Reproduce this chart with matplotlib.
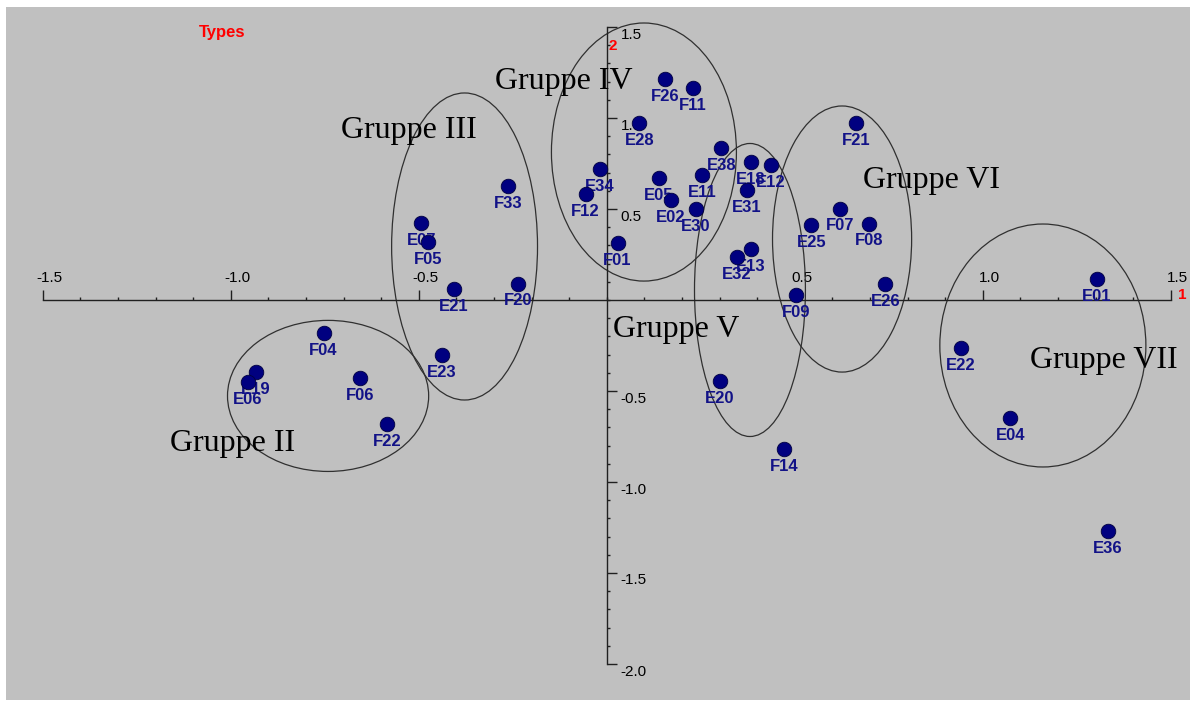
import matplotlib
matplotlib.use("Agg")
import matplotlib.pyplot as plt
from matplotlib.patches import Ellipse
from matplotlib.transforms import ScaledTranslation
import numpy as np

# ---------------- data ----------------
names = ["F26", "F11", "E28", "E38", "E18", "E12", "E34", "E05", "E11", "F12",
         "E02", "E31", "E30", "F01", "E13", "E32", "F33", "E07", "F05", "E21",
         "F20", "E23", "F04", "E19", "E06", "F06", "F22", "F21", "F07", "E25",
         "F08", "E26", "F09", "E20", "F14", "E01", "E22", "E04", "E36"]
xs = [0.155, 0.230, 0.087, 0.305, 0.384, 0.437, -0.018, 0.138, 0.254, -0.056,
      0.171, 0.372, 0.237, 0.029, 0.384, 0.346, -0.263, -0.493, -0.475, -0.406,
      -0.236, -0.439, -0.753, -0.933, -0.955, -0.655, -0.585, 0.663, 0.621, 0.544,
      0.698, 0.741, 0.503, 0.301, 0.472, 1.303, 0.942, 1.073, 1.333]
ys = [1.213, 1.166, 0.974, 0.833, 0.760, 0.743, 0.720, 0.672, 0.685, 0.582,
      0.548, 0.604, 0.498, 0.311, 0.280, 0.238, 0.626, 0.421, 0.317, 0.060,
      0.090, -0.302, -0.183, -0.394, -0.449, -0.427, -0.683, 0.971, 0.502, 0.411,
      0.420, 0.086, 0.029, -0.445, -0.819, 0.115, -0.266, -0.647, -1.269]

group_names = ["Gruppe II", "Gruppe III", "Gruppe IV", "Gruppe V", "Gruppe VI", "Gruppe VII"]
group_cx = [-0.741, -0.378, 0.099, 0.381, 0.626, 1.160]
group_cy = [-0.527, 0.294, 0.813, 0.055, 0.335, -0.250]
group_w = [0.535, 0.388, 0.492, 0.295, 0.370, 0.548]
group_h = [0.830, 1.687, 1.418, 1.610, 1.462, 1.335]
group_lx = [-0.994, -0.526, -0.114, 0.184, 0.863, 1.323]
group_ly = [-0.786, 0.929, 1.203, -0.160, 0.654, -0.335]

xticks_major = [-1.5, -1.0, -0.5, 0.5, 1.0, 1.5]
xtick_labels = ["-1.5", "-1.0", "-0.5", "0.5", "1.0", "1.5"]
yticks_major = [-2.0, -1.5, -1.0, -0.5, 0.5, 1.0, 1.5]
ytick_labels = ["-2.0", "-1.5", "-1.0", "-0.5", "0.5", "1.0", "1.5"]

# ---------------- figure ----------------
W, H, DPI = 1197, 705, 100
fig = plt.figure(figsize=(W / DPI, H / DPI), dpi=DPI, facecolor="white")
gx0, gy0, gx1, gy1 = 6, 7, 1190, 700  # gray area in pixels (top-left origin)
ax = fig.add_axes([gx0 / W, (H - gy1) / H, (gx1 - gx0) / W, (gy1 - gy0) / H])
ax.set_facecolor("#c0c0c0")

# pixel mapping: x0 at px 606.7, 376 px/unit ; y0 at py 300, 182 px/unit
ax.set_xlim((gx0 - 606.7) / 376, (gx1 - 606.7) / 376)
ax.set_ylim((300 - gy1) / 182, (300 - gy0) / 182)

for s in ["bottom", "top", "left", "right"]:
    ax.spines[s].set_position(("data", 0))
ax.spines["bottom"].set_bounds(-1.5, 1.5)
ax.spines["left"].set_bounds(-2.0, 1.5)
ax.spines["top"].set_visible(False)
ax.spines["right"].set_visible(False)
for s in ["bottom", "left"]:
    ax.spines[s].set_color("#202020")
    ax.spines[s].set_linewidth(1.0)

ax.xaxis.set_ticks_position("top")
ax.yaxis.set_ticks_position("right")
ax.set_xticks(xticks_major)
ax.set_xticklabels(xtick_labels)
ax.set_xticks(np.round(np.arange(-1.5, 1.5001, 0.1), 2), minor=True)
ax.set_yticks(yticks_major)
ax.set_yticklabels(ytick_labels)
ax.set_yticks(np.round(np.arange(-2.0, 1.5001, 0.1), 2), minor=True)

ax.tick_params(axis="both", which="major", direction="out", length=7.2, width=1.0,
               color="#202020", labelsize=11, labelcolor="black")
ax.tick_params(axis="both", which="minor", direction="out", length=2.4, width=1.0,
               color="#202020")
ax.tick_params(axis="x", which="major", pad=3.5)
ax.tick_params(axis="y", which="major", pad=3)

for lab in ax.get_xticklabels():
    lab.set_fontfamily("Liberation Sans")
    lab.set_transform(lab.get_transform() + ScaledTranslation(7 / 100, 0, fig.dpi_scale_trans))
for lab in ax.get_yticklabels():
    lab.set_fontfamily("Liberation Sans")
    lab.set_transform(lab.get_transform() + ScaledTranslation(0, -6 / 100, fig.dpi_scale_trans))

# ellipses
for cx, cy, w, h in zip(group_cx, group_cy, group_w, group_h):
    ax.add_patch(Ellipse((cx, cy), w, h, fill=False, edgecolor="#303030", linewidth=0.9, zorder=2))

for name, lx, ly in zip(group_names, group_lx, group_ly):
    ax.text(lx, ly, name, ha="center", va="center", fontsize=23,
            family="Liberation Serif", color="black", zorder=5)

# points and labels
ax.scatter(xs, ys, s=110, color="#000080", edgecolors="#000040", linewidths=0.6, zorder=4)
for n, x, y in zip(names, xs, ys):
    ax.annotate(n, (x, y), xytext=(0, -12.5), textcoords="offset points",
                ha="center", va="center", fontsize=12, fontweight="bold",
                family="Liberation Sans", color="#121287", zorder=3)

# axis titles (red)
t2 = ax.text(0, 1.5, "2", color="red", fontsize=11, fontweight="bold",
             family="Liberation Sans", ha="left", va="center")
t2.set_transform(ax.transData + ScaledTranslation(2 / 100, -19 / 100, fig.dpi_scale_trans))
t1 = ax.text(1.5, 0, "1", color="red", fontsize=11, fontweight="bold",
             family="Liberation Sans", ha="center", va="center")
t1.set_transform(ax.transData + ScaledTranslation(12 / 100, 5 / 100, fig.dpi_scale_trans))

fig.text(222 / W, 1 - 32 / H, "Types", color="red", fontsize=12, fontweight="bold",
         family="Liberation Sans", ha="center", va="center")

fig.savefig("out.png", dpi=DPI, facecolor="white")
